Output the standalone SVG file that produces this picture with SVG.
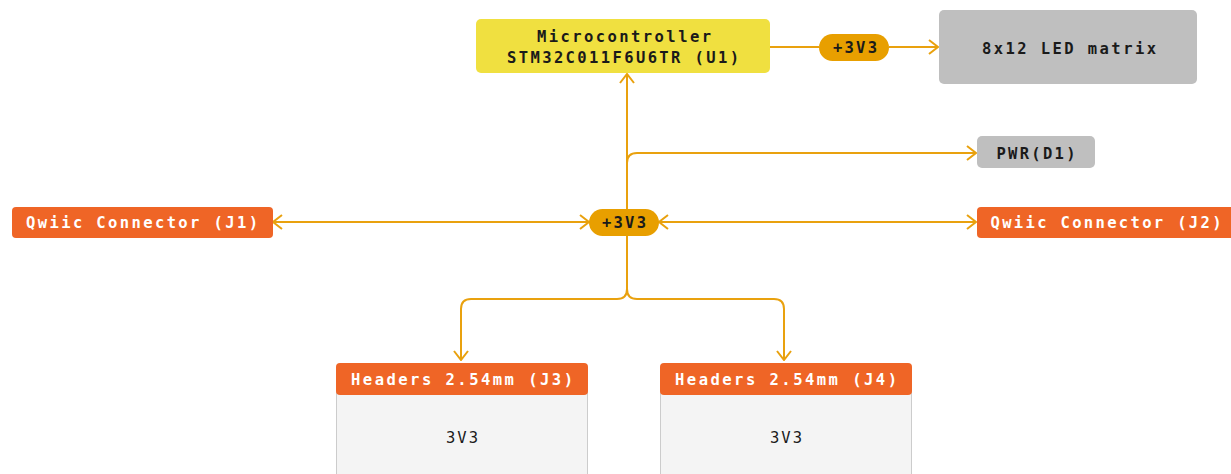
<svg xmlns="http://www.w3.org/2000/svg" width="1231" height="474" viewBox="0 0 1231 474">
<defs>
<style>
.t{font-family:"DejaVu Sans Mono","Liberation Mono",monospace;font-weight:bold;font-size:15.5px;text-anchor:middle;fill:#1a1a1a}
.w{fill:#ffffff}
.n{font-weight:normal}
.c{fill:none;stroke:#E9A10E;stroke-width:2}
.orange{fill:#EF6526}
.gray{fill:#BFBFBF}
.pill{fill:#E89F00}
</style>
<marker id="ah" viewBox="0 0 12 16" refX="11" refY="8" markerWidth="12" markerHeight="16" markerUnits="userSpaceOnUse" orient="auto-start-reverse">
<path d="M2,1 L11,8 L2,15" fill="none" stroke="#E9A10E" stroke-width="2"/>
</marker>
</defs>
<rect width="1231" height="474" fill="#ffffff"/>
<g id="connectors">
<path class="c" d="M770,47 H819" />
<path class="c" d="M889,47 H938" marker-end="url(#ah)"/>
<path class="c" d="M627,289 V74" marker-end="url(#ah)"/>
<path class="c" d="M627,163 Q627,153 637,153 H976" marker-end="url(#ah)"/>
<path class="c" d="M273,222 H589" marker-start="url(#ah)" marker-end="url(#ah)"/>
<path class="c" d="M659,222 H976" marker-start="url(#ah)" marker-end="url(#ah)"/>
<path class="c" d="M627,289 Q627,299 617,299 H471 Q461,299 461,309 V360" marker-end="url(#ah)"/>
<path class="c" d="M627,289 Q627,299 637,299 H774 Q784,299 784,309 V360" marker-end="url(#ah)"/>
</g>
<g id="mcu">
<rect x="476" y="19" width="294" height="54" rx="5" fill="#F0E040"/>
<text class="t" x="624" y="42" textLength="174" lengthAdjust="spacing">Microcontroller</text>
<text class="t" x="623" y="63" textLength="232" lengthAdjust="spacing">STM32C011F6U6TR (U1)</text>
</g>
<g id="pill-top">
<rect class="pill" x="819" y="34" width="70" height="27" rx="13.5"/>
<text class="t" x="855" y="53" textLength="44" lengthAdjust="spacing">+3V3</text>
</g>
<g id="led">
<rect class="gray" x="939" y="10" width="258" height="74" rx="5"/>
<text class="t" x="1069" y="54" textLength="174" lengthAdjust="spacing">8x12 LED matrix</text>
</g>
<g id="pwr">
<rect class="gray" x="977" y="136" width="118" height="32" rx="5"/>
<text class="t" x="1036" y="159" textLength="79" lengthAdjust="spacing">PWR(D1)</text>
</g>
<g id="j1">
<rect class="orange" x="12" y="207" width="261" height="31" rx="4"/>
<text class="t w" x="142" y="228" textLength="232" lengthAdjust="spacing">Qwiic Connector (J1)</text>
</g>
<g id="pill-center">
<rect class="pill" x="589" y="209" width="70" height="27" rx="13.5"/>
<text class="t" x="624" y="228" textLength="44" lengthAdjust="spacing">+3V3</text>
</g>
<g id="j2">
<rect class="orange" x="977" y="207" width="262" height="31" rx="4"/>
<text class="t w" x="1106" y="228" textLength="231" lengthAdjust="spacing">Qwiic Connector (J2)</text>
</g>
<g id="j3">
<rect x="336.5" y="380" width="251" height="100" fill="#F4F4F4" stroke="#CCCCCC" stroke-width="1"/>
<rect class="orange" x="336" y="363" width="252" height="32" rx="4"/>
<text class="t w" x="462" y="385" textLength="222" lengthAdjust="spacing">Headers 2.54mm (J3)</text>
<text class="t n" x="462" y="443" textLength="32" lengthAdjust="spacing">3V3</text>
</g>
<g id="j4">
<rect x="660.5" y="380" width="251" height="100" fill="#F4F4F4" stroke="#CCCCCC" stroke-width="1"/>
<rect class="orange" x="660" y="363" width="252" height="32" rx="4"/>
<text class="t w" x="786" y="385" textLength="222" lengthAdjust="spacing">Headers 2.54mm (J4)</text>
<text class="t n" x="786" y="443" textLength="32" lengthAdjust="spacing">3V3</text>
</g>
</svg>
